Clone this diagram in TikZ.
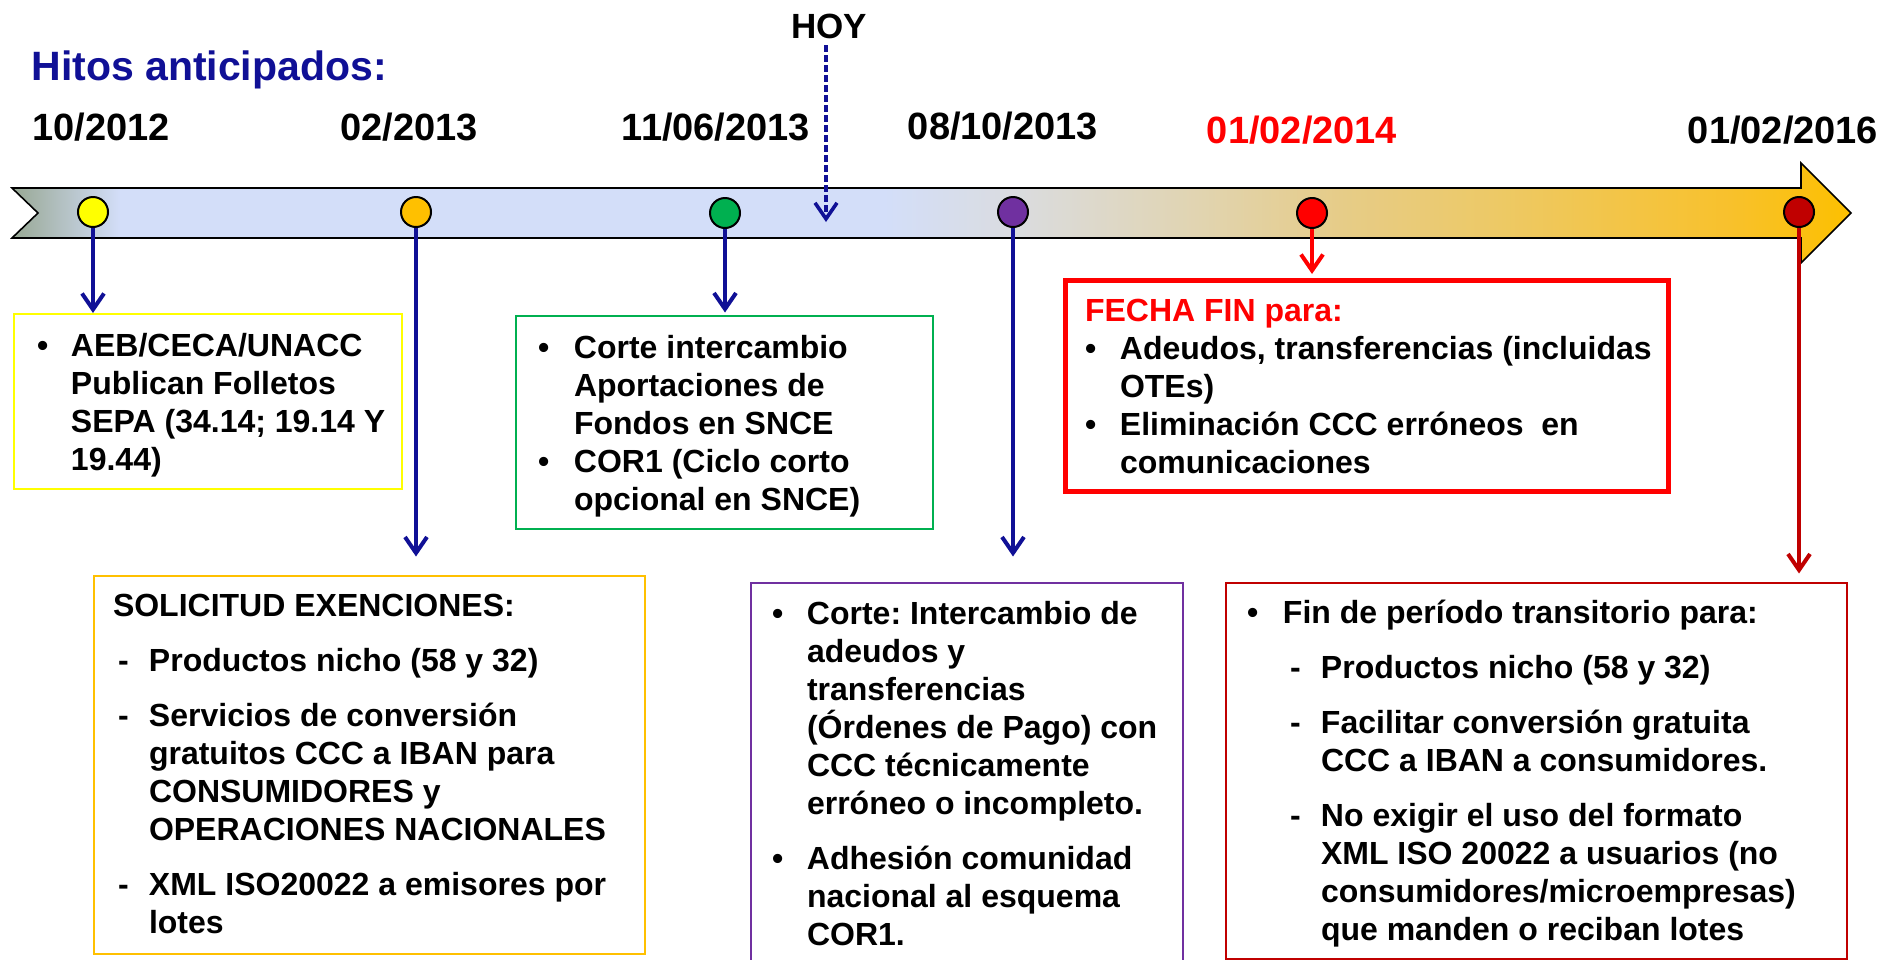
\documentclass[tikz,border=0pt]{standalone}
\usepackage{fontspec}
\setmainfont{Liberation Sans}
\usetikzlibrary{arrows.meta}
\frenchspacing

\definecolor{azul}{RGB}{16,16,150}
\definecolor{amarillo}{RGB}{255,255,0}
\definecolor{naranja}{RGB}{255,192,0}
\definecolor{verde}{RGB}{0,176,80}
\definecolor{morado}{RGB}{112,48,160}
\definecolor{rojo}{RGB}{255,0,0}
\definecolor{granate}{RGB}{192,0,0}
% colores de la barra
\definecolor{barra0}{RGB}{152,168,148}
\definecolor{barra1}{RGB}{211,222,249}
\definecolor{barra2}{RGB}{218,220,224}
\definecolor{barra3}{RGB}{225,212,176}
\definecolor{barra4}{RGB}{230,204,136}
\definecolor{barra5}{RGB}{237,201,101}
\definecolor{barra6}{RGB}{248,193,44}
\definecolor{barra7}{RGB}{252,192,0}
\pgfdeclarehorizontalshading{barra}{100bp}{color(0bp)=(barra0); color(25bp)=(barra0);
  color(27.95bp)=(barra1); color(48.7bp)=(barra1); color(52.2bp)=(barra2);
  color(57.3bp)=(barra3); color(61.1bp)=(barra4); color(65.45bp)=(barra5);
  color(71.7bp)=(barra6); color(75bp)=(barra7); color(100bp)=(barra7)}

\newcommand\punto[2]{\par\hangindent=#1\hangafter=1\noindent\strut\makebox[#1][l]{\textbullet}#2}
\newcommand\guion[2]{\par\hangindent=#1\hangafter=1\noindent\strut\makebox[#1][l]{\hspace{\dimexpr#1-15.5pt\relax}-}#2}
\newcommand\hueco{\par\vspace{8.5pt}}
\newcommand\contenido[3]{\makebox[#1][l]{\parbox[t][#2][t]{\dimexpr#1+60pt\relax}{#3}}}

\tikzset{
  hito/.style={circle, draw=black, line width=1pt, minimum size=15pt, inner sep=0pt},
  fecha/.style={anchor=base, font=\bfseries\fontsize{19}{22}\selectfont},
  caja/.style={draw, line width=1pt, anchor=north west, font=\bfseries\fontsize{16}{19}\selectfont},
  flecha/.style={-{Straight Barb[length=8pt,width=11pt]}, line width=2pt, draw=azul}
}

\begin{document}
\begin{tikzpicture}[x=0.5pt, y=-0.5pt]
  \useasboundingbox (0,0) rectangle (1899,959);

  \node[anchor=base west, inner sep=0pt, text=azul, font=\bfseries\fontsize{20.5}{24}\selectfont]
    (titulo) at (31,80) {Hitos anticipados:};

  % barra del tiempo
  \draw[line width=0.8pt, shading=barra] (12,188) -- (1801,188) -- (1801,163) -- (1851,213)
    -- (1801,263) -- (1801,238) -- (12,238) -- (38,213) -- cycle;

  % fechas
  \node[fecha] (f1) at (101,140) {10/2012};
  \node[fecha] (f2) at (409,140) {02/2013};
  \node[fecha] (f3) at (716,140) {11/06/2013};
  \node[fecha] (f4) at (1003,139) {08/10/2013};
  \node[fecha, text=rojo] (f5) at (1302,143) {01/02/2014};
  \node[fecha] (f6) at (1783,143) {01/02/2016};
  \node[fecha, font=\bfseries\fontsize{17.5}{20}\selectfont] (hoy) at (829,38) {HOY};
  \coordinate (hoyfin) at (826,222);
  \draw[flecha, line width=1.8pt, dash pattern=on 3.5pt off 1.5pt] (hoy.south -| hoyfin) -- (hoyfin);

  % hitos
  \foreach \n/\x/\y/\col in {c1/93/212/amarillo, c2/416/212/naranja, c3/725/213/verde,
      c4/1013/212/morado, c5/1312/213/rojo, c6/1799/212/granate}
    \node[hito, fill=\col] (\n) at (\x,\y) {};

  % cajas
  \node[caja, draw=amarillo, inner xsep=11.5pt, inner ysep=7.7pt] (b1) at (13,313)
    {\contenido{171pt}{72.1pt}{\punto{17pt}{AEB/CECA/UNACC\\Publican Folletos\\SEPA (34.14; 19.14 Y\\19.44)}}};
  \node[caja, draw=verde, inner xsep=11pt, inner ysep=7.7pt] (b2) at (515,315)
    {\contenido{186.5pt}{91.1pt}{\punto{18pt}{Corte intercambio\\Aportaciones de\\Fondos en SNCE}%
      \punto{18pt}{COR1 (Ciclo corto\\opcional en SNCE)}}};
  \node[caja, draw=naranja, inner xsep=9.5pt, inner ysep=6.7pt] (b3) at (93,575)
    {\contenido{256.5pt}{175.6pt}{\strut SOLICITUD EXENCIONES:\hueco
      \guion{18pt}{Productos nicho (58 y 32)}\hueco
      \guion{18pt}{Servicios de conversión\\gratuitos CCC a IBAN para\\CONSUMIDORES y\\OPERACIONES NACIONALES}\hueco
      \guion{18pt}{XML ISO20022 a emisores por\\lotes}}};
  \node[caja, draw=morado, inner xsep=10.5pt, inner ysep=7.2pt] (b4) at (750,582)
    {\contenido{195pt}{184.6pt}{\punto{17.5pt}{Corte: Intercambio de\\adeudos y\\transferencias\\(Órdenes de Pago) con\\CCC técnicamente\\erróneo o incompleto.}\hueco
      \punto{17.5pt}{Adhesión comunidad\\nacional al esquema\\COR1.}}};
  \node[caja, draw=rojo, line width=2.5pt, inner xsep=9.75pt, inner ysep=6.95pt] (b5) at (1063,278)
    {\contenido{282pt}{91.6pt}{\leavevmode{\color{rojo}\strut FECHA FIN para:}%
      \punto{17.5pt}{Adeudos, transferencias (incluidas\\OTEs)}%
      \punto{17.5pt}{Eliminación CCC erróneos\ \ en\\comunicaciones}}};
  \node[caja, draw=granate, inner xsep=10.5pt, inner ysep=6.7pt] (b6) at (1225,582)
    {\contenido{289.5pt}{174.6pt}{\punto{18pt}{Fin de período transitorio para:}\hueco
      \guion{37pt}{Productos nicho (58 y 32)}\hueco
      \guion{37pt}{Facilitar conversión gratuita\\CCC a IBAN a consumidores.}\hueco
      \guion{37pt}{No exigir el uso del formato\\XML ISO 20022 a usuarios (no\\consumidores/microempresas)\\que manden o reciban lotes}}};

  % conectores
  \draw[flecha] (c1) -- (c1 |- b1.north);
  \draw[flecha, shorten >=9.25pt] (c2) -- (c2 |- b3.north);
  \draw[flecha, shorten >=1.25pt] (c3) -- (c3 |- b2.north);
  \draw[flecha, shorten >=12.75pt] (c4) -- (c4 |- b4.north);
  \draw[flecha, draw=rojo, shorten >=2pt] (c5) -- (c5 |- b5.north);
  \draw[flecha, draw=granate, shorten >=4.25pt] (c6) -- (c6 |- b6.north);
\end{tikzpicture}
\end{document}
